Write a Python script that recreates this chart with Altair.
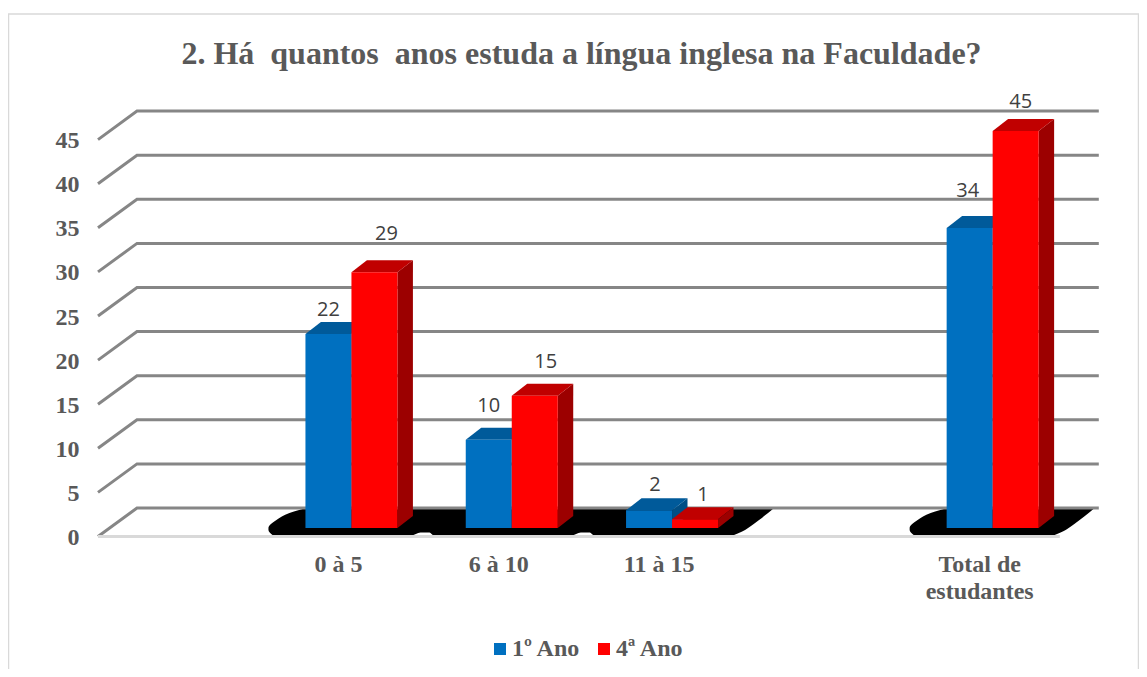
import altair as alt
import pandas as pd

# ---- values
categories = ["0 à 5", "6 à 10", "11 à 15", "Total de\nestudantes"]
category_slots = [1.5, 2.5, 3.5, 5.5]
series_names = ["1º Ano", "4ª Ano"]
ano1 = [22, 10, 2, 34]
ano4 = [29, 15, 1, 45]
y_ticks = [0, 5, 10, 15, 20, 25, 30, 35, 40, 45]
title_text = "2. Há\u00a0 quantos\u00a0 anos estuda a língua inglesa na Faculdade?"

# ---- styling
front_colors = ["#0070C0", "#FF0000"]
top_colors = ["#005A9A", "#C00000"]
side_colors = ["#004E85", "#9C0000"]
serif = "Liberation Serif"
grey = "#595959"

# ---- scale layout (x in category slots, y in value units)
PX_X = 160.3
PX_Y = 8.82
DX = 39 / PX_X      # depth of the floor in slots
DZ = 28.5 / PX_Y    # depth of the floor in value units
F, B = 1 / 3, 0.73  # front / back of the bars inside the floor (x)
FZ, BZ = 0.30, 0.72 # front / back of the bars inside the floor (y)
BAR = 46 / PX_X
PLOT_H = 569
x_scale = alt.Scale(domain=[0, 1041 / PX_X], nice=False, zero=False)
y_scale = alt.Scale(domain=[(536.5 - (100 + PLOT_H)) / PX_Y, (536.5 - 100) / PX_Y], nice=False, zero=False)
y_axis_spec = alt.Axis(values=y_ticks, domain=False, ticks=False, grid=False, title=None,
                       labelFont=serif, labelFontWeight="bold", labelFontSize=24,
                       labelColor=grey, labelPadding=19, labelOverlap=False, labelOffset=1)
X = alt.X("x:Q", scale=x_scale, axis=None)
Y = alt.Y("y:Q", scale=y_scale, axis=y_axis_spec, title=None)


def rows_for(i, values):
    faces_top, faces_side, faces_front = [], [], []
    for c, v, slot in zip(categories, values, category_slots):
        xl = slot + (i - 1) * BAR
        xr = xl + BAR
        faces_front.append(dict(x=xl + F * DX, x2=xr + F * DX, y=FZ * DZ, y2=v + FZ * DZ,
                                series=series_names[i], cat=c))
        for d, dz in ((F, FZ), (B, BZ)):
            faces_top.append(dict(x=xl + d * DX, x2=xr + d * DX, y=v + dz * DZ, cat=c))
            faces_side.append(dict(x=xr + d * DX, y=v + dz * DZ, y2=dz * DZ, cat=c))
    return pd.DataFrame(faces_top), pd.DataFrame(faces_side), pd.DataFrame(faces_front)


def bar_layers(i, values):
    top, side, front = rows_for(i, values)
    return [
        alt.Chart(side).mark_area(color=side_colors[i], orient="vertical").encode(
            x=X, y=Y, y2="y2:Q", detail="cat:N"),
        alt.Chart(top).mark_area(color=top_colors[i], orient="horizontal").encode(
            y=Y, x=X, x2="x2:Q", detail="cat:N"),
        alt.Chart(front).mark_rect(strokeWidth=0).encode(
            x=X, x2="x2:Q", y=Y, y2="y2:Q",
            color=alt.Color("series:N",
                            scale=alt.Scale(domain=series_names, range=front_colors),
                            legend=alt.Legend(
                                title=None, orient="none", legendX=390, legendY=537,
                                direction="horizontal", columns=2, columnPadding=11,
                                symbolType="square", symbolSize=144, symbolStrokeWidth=0,
                                labelFont=serif, labelFontWeight="bold", labelFontSize=24,
                                labelColor=grey, labelOffset=0, labelLimit=200))),
    ]


# ---- shadow on the floor
blob_levels = [0.17, 0.74, 0.96, 1.87, 2.66, 3.23]
blob_left = [-79, -83, -83, -75, -62, -45]
blob_right = [62, 73, 76, 87, 96, 102]
blob_rows = []
for c, slot in zip(categories, category_slots):
    for lv, a, b in zip(blob_levels, blob_left, blob_right):
        cx = slot + F * DX
        blob_rows.append(dict(y=lv, x=cx + a / PX_X, x2=cx + b / PX_X, cat=c))
shadow = alt.Chart(pd.DataFrame(blob_rows)).mark_area(color="black", orient="horizontal", interpolate="monotone").encode(
    y=Y, x=X, x2="x2:Q", detail="cat:N")
bridge = alt.Chart(pd.DataFrame([dict(x=category_slots[0] + F * DX, x2=category_slots[2] + F * DX,
                                      y=0.45, y2=3.23)])).mark_rect(color="black", strokeWidth=0).encode(
    x=X, x2="x2:Q", y=Y, y2="y2:Q")

# ---- walls and floor
grid_rows = []
for t in y_ticks:
    grid_rows.append(dict(level=t, o=0, x=0, y=t))
    grid_rows.append(dict(level=t, o=1, x=DX, y=t + DZ))
    grid_rows.append(dict(level=t, o=2, x=6 + DX, y=t + DZ))
grid = alt.Chart(pd.DataFrame(grid_rows)).mark_line(color="#868686", strokeWidth=3).encode(
    x=X, y=Y, detail="level:N", order="o:Q")
floor_front = alt.Chart(pd.DataFrame([dict(x=0, x2=6, y=0)])).mark_rule(color="#D9D9D9", strokeWidth=3).encode(
    x=X, x2="x2:Q", y=Y)

# ---- outer frame of the chart object
fl, fr = (8.5 - 98) / PX_X, (1138.5 - 98) / PX_X
ft, fb = (536.5 - 14) / PX_Y, (536.5 - 700) / PX_Y
frame_rows = [dict(o=0, x=fl, y=fb), dict(o=1, x=fl, y=ft), dict(o=2, x=fr, y=ft), dict(o=3, x=fr, y=fb)]
frame = alt.Chart(pd.DataFrame(frame_rows)).mark_line(color="#D9D9D9", strokeWidth=1.5, clip=False).encode(
    x=X, y=Y, order="o:Q")

# ---- category labels
cat_df = pd.DataFrame(dict(x=category_slots, y=[(536.5 - 553) / PX_Y] * 4, cat=categories))
cat_text = alt.Chart(cat_df).mark_text(
    font=serif, fontWeight="bold", fontSize=24, color=grey, baseline="top", lineBreak="\n", lineHeight=27
).encode(x=X, y=Y, text="cat:N")

# ---- value labels, with the small nudges the original has (px)
label_dx = [[0, 12], [0, 11], [6, 8], [-2, 5]]
label_dy = [[24, 38], [34, 34], [25, 24], [37, 29]]
lab_rows = []
for i, values in enumerate([ano1, ano4]):
    for j, (v, slot) in enumerate(zip(values, category_slots)):
        xc = slot + F * DX + (i - 0.5) * BAR
        lab_rows.append(dict(x=xc + label_dx[j][i] / PX_X,
                             y=v + FZ * DZ + label_dy[j][i] / PX_Y,
                             t=str(v)))
val_text = alt.Chart(pd.DataFrame(lab_rows)).mark_text(
    font="Open Sans", fontSize=20, color="#404040", baseline="middle"
).encode(x=X, y=Y, text="t:N")

chart = alt.layer(
    frame, shadow, bridge, grid, floor_front,
    *bar_layers(0, ano1), *bar_layers(1, ano4),
    val_text, cat_text,
).properties(
    width=1041, height=PLOT_H,
    title=alt.Title(title_text, font=serif, fontWeight="bold", fontSize=32, color=grey,
                    anchor="middle", dx=-37, dy=60, offset=0),
    autosize=alt.AutoSizeParams(type="none"),
    padding={"left": 90, "top": 92, "right": 0, "bottom": 0},
    background="white",
).configure_view(stroke=None)

chart.save("out.html", embed_options={"renderer": "svg", "actions": False})
